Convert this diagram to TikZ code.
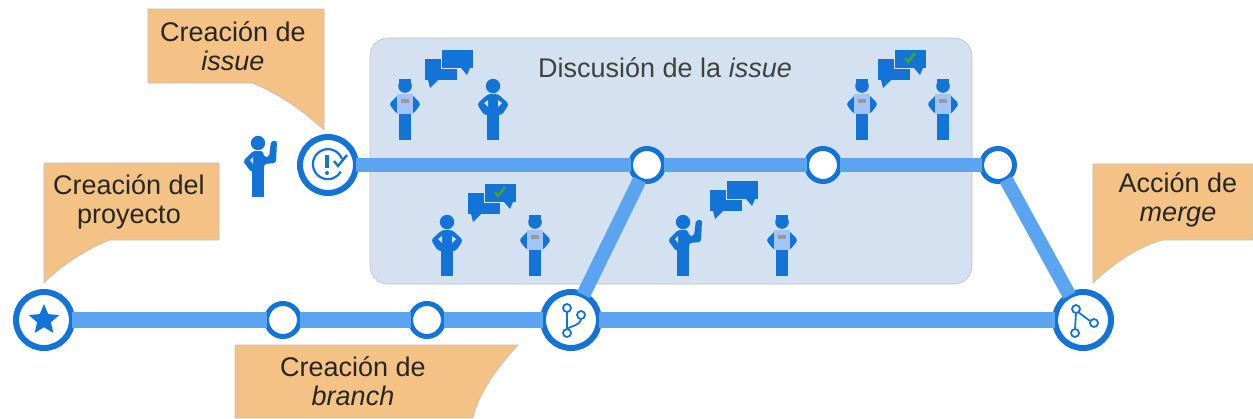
\documentclass[tikz,border=0pt]{standalone}
\usepackage{fontspec}
\setmainfont{Liberation Sans}
\usetikzlibrary{shapes.geometric}

\definecolor{stopblue}{HTML}{1373D6}
\definecolor{trackblue}{HTML}{5BA5F0}
\definecolor{shirtblue}{HTML}{A3C4F9}
\definecolor{boxblue}{HTML}{D4E1F1}
\definecolor{noteorange}{HTML}{F3C284}
\definecolor{okgreen}{HTML}{3FA535}

\tikzset{
  bigstop/.style={circle,draw=stopblue,fill=white,line width=3pt,inner sep=0pt,outer sep=0pt,minimum size=28pt},
  smallstop/.style={circle,draw=stopblue,fill=white,line width=2.5pt,inner sep=0pt,outer sep=0pt,minimum size=16.5pt},
  track/.style={draw=trackblue,line width=7pt},
  note/.style={fill=noteorange,draw=black!25,line width=0.3pt},
  label/.style={align=center,text=black!85,font=\fontsize{13.5}{14.5}\selectfont,inner sep=0pt},
  icon/.style={draw=stopblue,line width=0.9pt,fill=none},
  pics/plainman/.style={code={
    \fill[stopblue] (0,-54) circle (3.6pt);
    \fill[stopblue] (-6,0) rectangle (6,-28);
    \fill[stopblue,rounded corners=1.5pt] (-5,-46) -- (5,-46) -- (16,-36) -- (9,-25) -- (-9,-25) -- (-16,-36) -- cycle;
    \fill[boxblue] (-9,-37) -- (-5,-40) -- (-5,-33) -- cycle;
    \fill[boxblue] (9,-37) -- (5,-40) -- (5,-33) -- cycle;
  }},
  pics/devman/.style={code={
    \fill[stopblue] (0,-54) circle (3.4pt);
    \fill[stopblue] (-6,-61) rectangle (6,-58);
    \fill[stopblue] (-6,0) rectangle (6,-28);
    \fill[stopblue,rounded corners=1.5pt] (-6,-46) -- (6,-46) -- (16,-36) -- (8,-26) -- (-8,-26) -- (-16,-36) -- cycle;
    \fill[shirtblue] (-8,-46) rectangle (8,-26);
    \fill[black!40] (-4,-41) rectangle (4,-37);
  }},
  pics/raisedman/.style={code={
    \fill[stopblue] (0,-54) circle (3.6pt);
    \fill[stopblue] (-6,0) rectangle (6,-28);
    \fill[stopblue,rounded corners=1pt] (-5,-46) -- (5,-46) -- (6,-40) -- (11,-40) -- (13,-56) -- (19,-56) -- (18,-34) -- (6,-33) -- (6,-25) -- (-7,-25) -- (-15,-36) -- cycle;
    \fill[boxblue] (-8,-37) -- (-5,-40) -- (-5,-33) -- cycle;
  }},
  pics/talk/.style={code={
    \fill[stopblue] (0,10) rectangle (32,31);
    \fill[stopblue] (3,31) -- (5,39) -- (13,31) -- cycle;
    \filldraw[fill=stopblue,draw=boxblue,line width=0.5pt] (16,0) rectangle (48,19);
    \fill[stopblue] (36,19) -- (42,26) -- (45,19) -- cycle;
  }},
  pics/talkok/.style={code={
    \pic {talk};
    \draw[okgreen,line width=1.3pt] (27,9) -- (30,13) -- (37,4);
  }}
}

\begin{document}
\begin{tikzpicture}[x=0.5pt,y=-0.5pt]
  \useasboundingbox (0,0) rectangle (1253,418);

  \filldraw[fill=boxblue,draw=black!25,line width=0.3pt,rounded corners=9pt] (370,38) rectangle (972,284);
  \node[label,text=black!75] (discussion) at (665,68) {Discusión de la \textit{issue}};

  \filldraw[note] (148,9) -- (324,9) -- (324,130) .. controls (300,108) and (275,92) .. (252,83) -- (148,83) -- cycle;
  \filldraw[note] (44,163) -- (219,163) -- (219,240) -- (110,240) .. controls (85,250) and (62,265) .. (44,283) -- cycle;
  \filldraw[note] (235,345) -- (518,345) .. controls (495,370) and (478,395) .. (473,418) -- (235,418) -- cycle;
  \filldraw[note] (1093,164) -- (1253,164) -- (1253,240) -- (1163,240) .. controls (1140,246) and (1115,262) .. (1093,283) -- cycle;

  \node[label] (noteissue) at (233,46) {Creación de\\\textit{issue}};
  \node[label] (noteproject) at (129,202) {Creación del\\proyecto};
  \node[label] (notebranch) at (353,381) {Creación de\\\textit{branch}};
  \node[label] (notemerge) at (1178,200) {Acción de\\\textit{merge}};

  \node[bigstop] (project) at (44,320) {};
  \node[smallstop] (commit_1) at (283,320) {};
  \node[smallstop] (commit_2) at (427,320) {};
  \node[bigstop] (branch) at (571,320) {};
  \node[bigstop] (merge) at (1083,320) {};
  \node[bigstop] (issue) at (328,165) {};
  \node[smallstop] (talk_1) at (647,165) {};
  \node[smallstop] (talk_2) at (823,165) {};
  \node[smallstop] (talk_3) at (998,165) {};

  \path[track,line width=8pt]
    (project) edge (commit_1)
    (commit_1) edge (commit_2)
    (commit_2) edge (branch)
    (branch) edge (merge);
  \path[track]
    (issue) edge (talk_1)
    (talk_1) edge (talk_2)
    (talk_2) edge (talk_3)
    (branch) edge (talk_1)
    (talk_3) edge (merge);

  \node[star,star points=5,star point ratio=2.2,fill=stopblue,inner sep=0pt,minimum size=16pt] (projectstar) at (project) {};

  \draw[stopblue,line width=1.1pt] (342,159) arc (-20:-330:15);
  \draw[stopblue,line width=1.6pt] (327,155) -- (327,168);
  \fill[stopblue] (327,173) circle (1pt);
  \draw[stopblue,line width=1.2pt] (334,161) -- (338,166) -- (347,155);

  \draw[icon] (567,312) -- (567,329) (581,319) .. controls (580,326) and (570,326) .. (567,329);
  \draw[icon,fill=white] (567,308) circle (2pt) (581,315) circle (2pt) (567,333) circle (2pt);
  \draw[icon] (1076,313) -- (1075,329) (1078,312) -- (1090,321);
  \draw[icon,fill=white] (1076,309) circle (2pt) (1094,323) circle (2pt) (1075,333) circle (2pt);

  \pic at (258,197) {raisedman};
  \pic at (405,140) {devman};
  \pic at (493,140) {plainman};
  \pic at (447,276) {plainman};
  \pic at (535,276) {devman};
  \pic at (683,276) {raisedman};
  \pic at (782,276) {devman};
  \pic at (862,140) {devman};
  \pic at (943,140) {devman};

  \pic at (425,49) {talk};
  \pic at (468,183) {talkok};
  \pic at (710,180) {talk};
  \pic at (878,49) {talkok};
\end{tikzpicture}
\end{document}
